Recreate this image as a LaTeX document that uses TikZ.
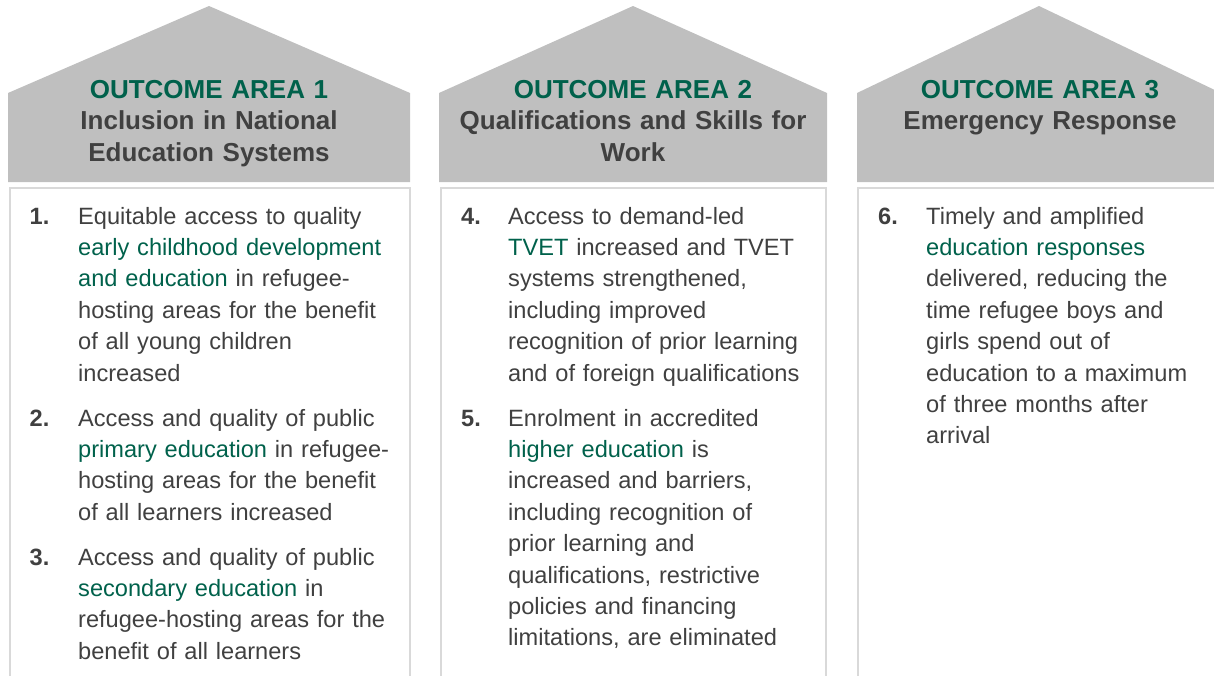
\documentclass[tikz,border=0pt]{standalone}
\usepackage{fontspec}
\setmainfont{Liberation Sans}
\usetikzlibrary{calc}
\definecolor{color_area_roof}{HTML}{BFBFBF}
\definecolor{color_area_green}{HTML}{00614B}
\definecolor{color_area_text}{HTML}{404040}
\definecolor{color_area_frame}{HTML}{D9D9D9}
\def\reservedspace{\useasboundingbox (0,0) rectangle (1214,675);}
\def\hl#1{\textcolor{color_area_green}{#1}}

\begin{document}
\begin{tikzpicture}[x=1pt, y=-1pt,
        areatitle/.style={anchor=base, inner sep=0pt, text width=390pt, align=center,
            font=\fontsize{26}{31.5}\selectfont\bfseries, text=color_area_text},
        itemnum/.style={anchor=base west, inner sep=0pt,
            font=\fontsize{23.6}{31.4}\selectfont\bfseries, text=color_area_text},
        itemtext/.style={anchor=base west, inner sep=0pt, text width=340pt, align=left,
            font=\fontsize{23.6}{31.4}\selectfont, text=color_area_text}]
            \reservedspace
            % roofs of the three outcome areas
            \foreach \l/\a/\r in {8/209/410, 439/633/827, 857/1039/1221}
                \fill[color_area_roof] (\l,182) -- (\l,93) -- (\a,6) -- (\r,93) -- (\r,182) -- cycle;
            % frames below the roofs
            \foreach \l/\r in {10/410, 441/826, 858/1222}
                \draw[color_area_frame, line width=1.3pt] (\l,188) rectangle (\r,680);
            % titles
            \node[areatitle] (area1) at (209,98) {\hl{OUTCOME AREA 1}\\Inclusion in National\\Education Systems};
            \node[areatitle] (area2) at (633,98) {\hl{OUTCOME AREA 2}\\Qualifications and Skills for\\Work};
            \node[areatitle] (area3) at (1040,98) {\hl{OUTCOME AREA 3}\\Emergency Response};
            % outcome area 1
            \node[itemnum] (num1) at (29.5,224) {1.};
            \node[itemtext] (goal1) at (78,224) {Equitable access to quality\\\hl{early childhood development}\\\hl{and education} in refugee-\\hosting areas for the benefit\\of all young children\\increased};
            \node[itemnum] (num2) at (29.5,426) {2.};
            \node[itemtext] (goal2) at (78,426) {Access and quality of public\\\hl{primary education} in refugee-\\hosting areas for the benefit\\of all learners increased};
            \node[itemnum] (num3) at (29.5,565) {3.};
            \node[itemtext] (goal3) at (78,565) {Access and quality of public\\\hl{secondary education} in\\refugee-hosting areas for the\\benefit of all learners};
            % outcome area 2
            \node[itemnum] (num4) at (461,224) {4.};
            \node[itemtext] (goal4) at (508,224) {Access to demand-led\\\hl{TVET} increased and TVET\\systems strengthened,\\including improved\\recognition of prior learning\\and of foreign qualifications};
            \node[itemnum] (num5) at (461,426) {5.};
            \node[itemtext] (goal5) at (508,426) {Enrolment in accredited\\\hl{higher education} is\\increased and barriers,\\including recognition of\\prior learning and\\qualifications, restrictive\\policies and financing\\limitations, are eliminated};
            % outcome area 3
            \node[itemnum] (num6) at (878,224) {6.};
            \node[itemtext] (goal6) at (926,224) {Timely and amplified\\\hl{education responses}\\delivered, reducing the\\time refugee boys and\\girls spend out of\\education to a maximum\\of three months after\\arrival};
        \end{tikzpicture}
\end{document}
